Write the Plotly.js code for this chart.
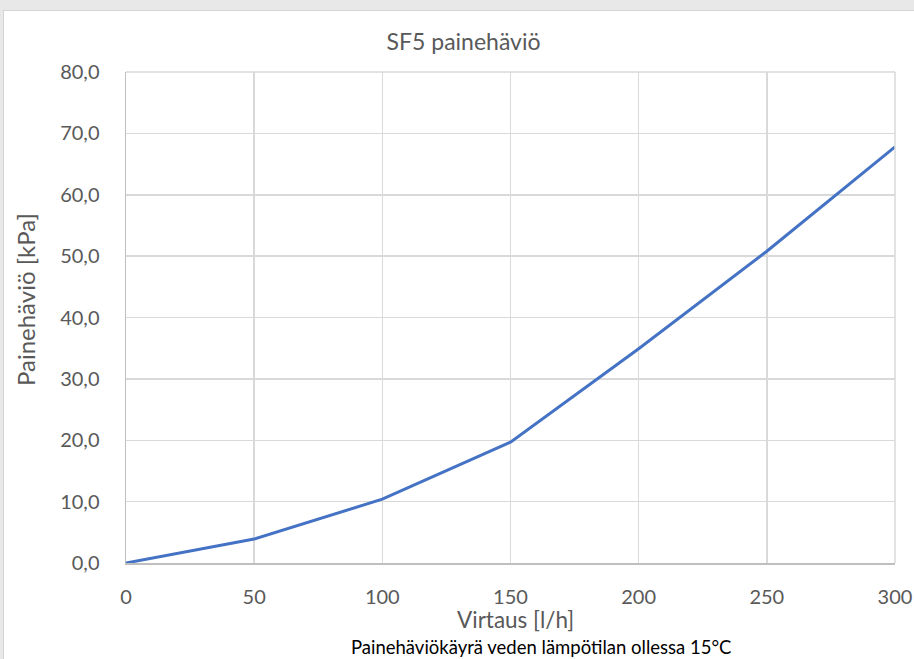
<!DOCTYPE html>
<html>
<head>
<meta charset="utf-8">
<script src="https://cdn.plot.ly/plotly-3.0.1.min.js"></script>
<style>
html,body{margin:0;padding:0;background:#e8e8e8;width:914px;height:659px;overflow:hidden;}
#wrap{position:absolute;left:3px;top:10px;width:911px;height:649px;border-left:1px solid #d4d4d4;border-top:1px solid #d4d4d4;background:#fff;}
#chart{width:910px;height:648px;}
</style>
</head>
<body>
<div id="wrap"><div id="chart"></div></div>
<script>
const flow = [0, 50, 100, 150, 200, 250, 300];
const pressureDrop = [0.0, 3.9, 10.4, 19.7, 34.9, 50.8, 67.8];
const xTicks = [0, 50, 100, 150, 200, 250, 300];
const yTicks = [0, 10, 20, 30, 40, 50, 60, 70, 80];
const chartTitle = "SF5 painehäviö";
const xTitle = "Virtaus [l/h]";
const yTitle = "Painehäviö [kPa]";
const note = "Painehäviökäyrä veden lämpötilan ollessa 15°C";

const font = "Lato, sans-serif";
const grey = "#595959";

Plotly.newPlot("chart", [{
  x: flow, y: pressureDrop, type: "scatter", mode: "lines",
  line: {color: "#4472C4", width: 3}, hoverinfo: "skip"
}], {
  width: 910, height: 648,
  margin: {l: 122, r: 19, t: 61, b: 96},
  paper_bgcolor: "#fff", plot_bgcolor: "#fff",
  separators: ", ",
  showlegend: false,
  font: {family: font, color: grey, size: 19},
  title: {text: chartTitle, font: {family: font, size: 23, color: grey}, x: 0.505, xref: "container", xanchor: "center", y: 0.952, yref: "container", yanchor: "middle"},
  xaxis: {range: [0, 300], tickvals: xTicks, showgrid: true, gridcolor: "#d9d9d9", gridwidth: 1.5,
    showline: true, linecolor: "#bfbfbf", linewidth: 1.5, mirror: false, zeroline: false,
    ticks: "", ticklabelstandoff: 15, tickfont: {size: 20, color: grey}},
  yaxis: {range: [0, 80], tickvals: yTicks, tickformat: ".1f", showgrid: true, gridcolor: "#d9d9d9", gridwidth: 1.5,
    showline: true, linecolor: "#bfbfbf", linewidth: 1.5, zeroline: false,
    ticks: "", ticklabelstandoff: 21, tickfont: {size: 20, color: grey}},
  shapes: [
    {type: "line", xref: "paper", yref: "paper", x0: 0, x1: 1, y0: 1, y1: 1, line: {color: "#d9d9d9", width: 1.5}},
    {type: "line", xref: "paper", yref: "paper", x0: 1, x1: 1, y0: 0, y1: 1, line: {color: "#d9d9d9", width: 1.5}}
  ],
  annotations: [
    {text: xTitle, xref: "paper", yref: "paper", x: 0.506, y: -0.115, xanchor: "center", yanchor: "middle",
      showarrow: false, font: {family: font, size: 22.5, color: grey}},
    {text: yTitle, xref: "paper", yref: "paper", x: -0.1313, y: 0.5356, xanchor: "center", yanchor: "middle",
      textangle: -90, showarrow: false, font: {family: font, size: 24, color: grey}},
    {text: note, xref: "paper", yref: "paper", x: 0.54, y: -0.172, xanchor: "center", yanchor: "middle",
      showarrow: false, font: {family: font, size: 18.5, color: "#000"}}
  ]
}, {displayModeBar: false, staticPlot: true});
</script>
</body>
</html>
